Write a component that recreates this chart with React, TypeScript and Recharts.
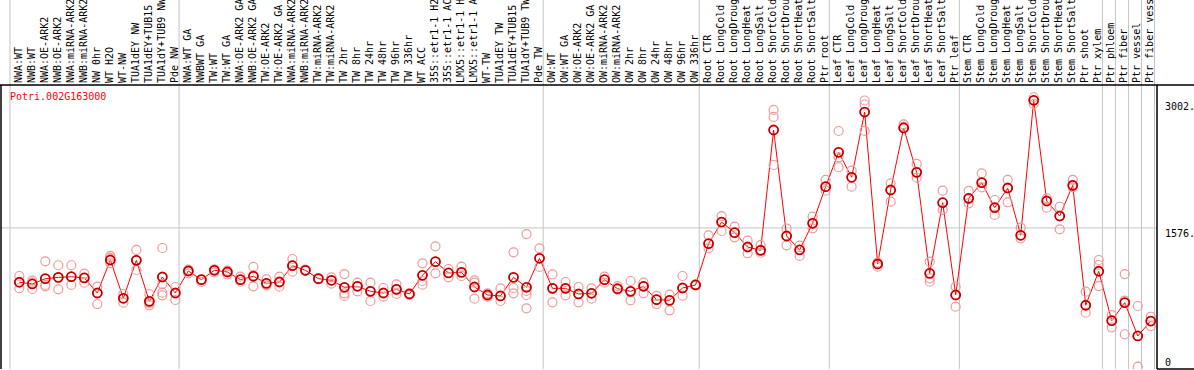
import { ComposedChart, Line, XAxis, YAxis, ReferenceLine } from "recharts";

const GENE = "Potri.002G163000";

const CATEGORIES = [
  "NWA:WT", "NWB:WT", "NWA:OE-ARK2", "NWB:OE-ARK2", "NWA:miRNA-ARK2", "NWB:miRNA-ARK2",
  "NW 0hr", "WT H2O", "WT-NW", "TUA1dEY NW", "TUA1dEY+TUB15 NW", "TUA1dY+TUB9 NW", "Pde NW",
  "NWA:WT GA", "NWBWT GA", "TW:WT", "TW:WT GA", "NWA:OE-ARK2 GA", "NWB:OE-ARK2 GA",
  "TW:OE-ARK2", "TW:OE-ARK2 GA", "NWA:miRNA-ARK2", "NWB:miRNA-ARK2", "TW:miRNA-ARK2",
  "TW:miRNA-ARK2", "TW 2hr", "TW 8hr", "TW 24hr", "TW 48hr", "TW 96hr", "TW 336hr", "WT ACC",
  "35S::etr1-1 H2O", "35S::etr1-1 ACC", "LMX5::etr1-1 H2O", "LMX5::etr1-1 ACC", "WT-TW",
  "TUA1dEY TW", "TUA1dEY+TUB15 TW", "TUA1dY+TUB9 TW", "Pde TW",
  "OW:WT", "OW:WT GA", "OW:OE-ARK2", "OW:OE-ARK2 GA", "OW:miRNA-ARK2", "OW:miRNA-ARK2",
  "OW 2hr", "OW 8hr", "OW 24hr", "OW 48hr", "OW 96hr", "OW 336hr",
  "Root CTR", "Root LongCold", "Root LongDrought", "Root LongHeat", "Root LongSalt",
  "Root ShortCold", "Root ShortDrought", "Root ShortHeat", "Root ShortSalt", "Ptr root",
  "Leaf CTR", "Leaf LongCold", "Leaf LongDrought", "Leaf LongHeat", "Leaf LongSalt",
  "Leaf ShortCold", "Leaf ShortDrought", "Leaf ShortHeat", "Leaf ShortSalt", "Ptr leaf",
  "Stem CTR", "Stem LongCold", "Stem LongDrought", "Stem LongHeat", "Stem LongSalt",
  "Stem ShortCold", "Stem ShortDrought", "Stem ShortHeat", "Stem ShortSalt", "Ptr shoot",
  "Ptr xylem", "Ptr phloem", "Ptr fiber", "Ptr vessel", "Ptr fiber vessel",
];

// group boundaries (between sample indices)
const GROUP_EDGES = [-0.715, 12.285, 40.285, 52.285, 62.285, 72.285, 83.285, 84.285, 85.285, 86.285, 87.285];

const MEANS = [
  969, 950, 1009, 1024, 1031, 1017, 849, 1218, 790, 1214, 756, 1028, 849,
  1095, 998, 1103, 1084, 998, 1036, 957, 972, 1154, 1103, 1009, 991, 913, 924, 868, 849, 890,
  838, 1047, 1199, 1073, 1080, 916, 827, 816, 1024, 913, 1237,
  901, 901, 838, 846, 998, 897, 868, 924, 775, 767, 905, 939,
  1400, 1642, 1523, 1363, 1326, 2670, 1486, 1330, 1628, 2037,
  2421, 2142, 2871, 1173, 2000, 2693, 2197, 1069, 1858, 827,
  1907, 2082, 1802, 2022, 1494, 3002, 1877, 1709, 2052, 712, 1092,
  540, 741, 369, 536,
];

const REP_A = [
  1039, 987, 1203, 1159, 1159, 1065, 920, 1263, 838, 1330, 838, 1352, 916,
  1110, 1002, 1114, 1098, 1031, 1140, 1002, 1031, 1229, 1110, 1015, 1024, 1061, 965, 965, 905, 946,
  845, 1181, 1371, 1117, 1143, 991, 846, 901, 1304, 1508, 1348,
  1058, 972, 916, 901, 1031, 927, 983, 965, 816, 830, 1039, 945,
  1494, 1709, 1590, 1434, 1385, 2894, 1568, 1378, 1702, 2112,
  2659, 2216, 3000, 1188, 2075, 2734, 2291, 1199, 1992, 920,
  1989, 2186, 1888, 2112, 1579, 3036, 1907, 1813, 2112, 864, 1218,
  603, 1061, 704, 584,
];

const REP_B = [
  969, 965, 939, 1024, 1031, 1020, 849, 1244, 790, 1218, 734, 950, 849,
  1095, 998, 1103, 1084, 998, 1044, 957, 972, 1154, 1103, 1009, 991, 846, 924, 868, 849, 890,
  838, 983, 1199, 1073, 1080, 965, 827, 816, 905, 872, 1237,
  901, 901, 838, 846, 998, 897, 868, 924, 775, 767, 905, 939,
  1400, 1642, 1523, 1363, 1326, 2816, 1486, 1330, 1628, 2037,
  2365, 2142, 2955, 1173, 2000, 2707, 2197, 1013, 1858, 827,
  1907, 2082, 1802, 2022, 1494, 3002, 1877, 1709, 2052, 712, 1162,
  540, 763, 369, 536,
];

const REP_C = [
  902, 894, 924, 890, 939, 965, 726, 1181, 741, 1106, 712, 853, 771,
  1069, 972, 1080, 1058, 975, 924, 935, 920, 1087, 1095, 1002, 953, 816, 868, 760, 808, 838,
  832, 942, 1069, 1024, 1039, 786, 808, 760, 846, 827, 1140,
  745, 823, 745, 786, 965, 883, 767, 846, 726, 656, 819, 933,
  1348, 1542, 1471, 1293, 1299, 2279, 1382, 1263, 1572, 1992,
  2254, 2037, 2660, 1143, 1870, 2693, 2138, 975, 1777, 696,
  1851, 2030, 1721, 1862, 1460, 2961, 1802, 1561, 2030, 629, 927,
  466, 388, 26, 480,
];

// fourth replicate only where one is visible
const REP_D: (number | null)[] = CATEGORIES.map(() => null);
REP_D[11] = 823;
REP_D[39] = 678;

const Y_TICKS = [0, 1576, 3002];
const Y_TICK_LABELS = ["0", "1576.", "3002."];

const data = CATEGORIES.map((name, i) => ({
  i,
  name,
  mean: MEANS[i],
  a: REP_A[i],
  b: REP_B[i],
  c: REP_C[i],
  d: REP_D[i],
}));

const FONT = "DejaVu Sans Mono";
const REP_COLOR = "#ee9a9a";

function LabelTick(props: any) {
  const { x, payload } = props;
  const bx = x + 2.5;
  return (
    <text x={bx} y={83} transform={`rotate(-90 ${bx} 83)`} fontFamily={FONT} fontSize={10} fill="#000">
      {CATEGORIES[payload.value]}
    </text>
  );
}

function ValueTick(props: any) {
  const { x, y, payload } = props;
  const idx = Y_TICKS.indexOf(payload.value);
  return (
    <text x={x} y={y + (payload.value === 0 ? -3.5 : 9.5)} fontFamily={FONT} fontSize={10} fill="#000">
      {Y_TICK_LABELS[idx]}
    </text>
  );
}

// mean marker: red ring with a thin dark edge
function MeanDot(props: any) {
  const { cx, cy } = props;
  if (cx == null || cy == null) return null;
  return (
    <g>
      <circle cx={cx} cy={cy} r={4.5} fill="none" stroke="#ff0000" strokeWidth={1.8} />
      <circle cx={cx} cy={cy} r={4.5} fill="none" stroke="#400000" strokeWidth={0.5} />
    </g>
  );
}

const repDot = { r: 4.5, stroke: REP_COLOR, strokeWidth: 1.2, fill: "none" };

export default function App() {
  return (
    <div style={{ position: "absolute", left: 0, top: 0, width: 1194, height: 370, background: "#fff" }}>
      <ComposedChart width={1194} height={370} data={data} margin={{ top: 0, right: 0, bottom: 1, left: 1 }}>
        <XAxis
          xAxisId={0}
          type="number"
          dataKey="i"
          orientation="top"
          height={85}
          domain={[-1.407, 87.48]}
          allowDataOverflow
          ticks={data.map((d) => d.i)}
          interval={0}
          axisLine={false}
          tickLine={false}
          tick={<LabelTick />}
        />
        <YAxis
          orientation="right"
          width={37}
          domain={[0, 3173]}
          allowDataOverflow
          ticks={Y_TICKS}
          interval={0}
          axisLine={false}
          tickLine={false}
          tick={<ValueTick />}
        />
        {GROUP_EDGES.map((e) => (
          <ReferenceLine
            key={e}
            x={e}
            shape={(p: any) => <line x1={p.x1} x2={p.x2} y1={0} y2={p.y2} stroke="#c4c4c4" strokeWidth={1} />}
          />
        ))}
        <ReferenceLine y={1576} stroke="#c4c4c4" strokeWidth={1} />
        <ReferenceLine
          y={3173}
          shape={(p: any) => <line x1={0} x2={1194} y1={p.y1} y2={p.y2} stroke="#000" strokeWidth={1.5} />}
        />
        <ReferenceLine
          y={0}
          shape={(p: any) => <line x1={p.x1} x2={1194} y1={p.y1} y2={p.y2} stroke="#000" strokeWidth={1.5} />}
        />
        <ReferenceLine x={-1.407} stroke="#000" strokeWidth={1.5} />
        <ReferenceLine x={87.48} stroke="#000" strokeWidth={1.5} />
        <Line dataKey="a" stroke="none" dot={repDot} activeDot={false} isAnimationActive={false} />
        <Line dataKey="b" stroke="none" dot={repDot} activeDot={false} isAnimationActive={false} />
        <Line dataKey="c" stroke="none" dot={repDot} activeDot={false} isAnimationActive={false} />
        <Line dataKey="d" stroke="none" dot={repDot} activeDot={false} isAnimationActive={false} />
        <Line
          dataKey="mean"
          type="linear"
          stroke="#ff0000"
          strokeWidth={1}
          dot={<MeanDot />}
          activeDot={false}
          isAnimationActive={false}
        />
      </ComposedChart>
      <div
        style={{
          position: "absolute",
          left: 10,
          top: 92,
          fontFamily: FONT,
          fontSize: 10,
          lineHeight: "10px",
          color: "#ff0000",
        }}
      >
        {GENE}
      </div>
    </div>
  );
}
